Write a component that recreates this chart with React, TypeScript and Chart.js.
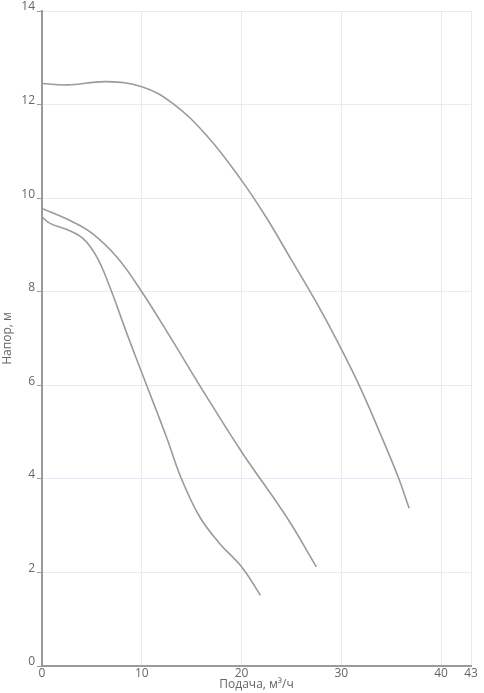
import React, { useEffect, useRef } from "react";
import { Chart, registerables } from "chart.js";

Chart.register(...registerables);

const xTicks = [0, 10, 20, 30, 40, 43];

const curveTopX = [0, 2.5, 6.5, 10, 13, 16.5, 20, 22.5, 25, 27.5, 29.5, 31.7, 33.9, 35.7, 36.8];
const curveTopY = [12.45, 12.42, 12.49, 12.38, 12.04, 11.34, 10.38, 9.58, 8.68, 7.77, 6.98, 6.04, 4.97, 4.04, 3.37];

const curveMidX = [0, 3, 5, 7.5, 10, 13, 16, 20, 24.5, 27.5];
const curveMidY = [9.78, 9.5, 9.25, 8.74, 8.0, 6.98, 5.93, 4.58, 3.19, 2.12];

const curveLowX = [0, 0.8, 2.5, 4.1, 5.5, 6.8, 8.5, 10.4, 12.5, 14, 15.8, 17.8, 20, 21.9];
const curveLowY = [9.6, 9.46, 9.33, 9.14, 8.74, 8.1, 7.11, 6.05, 4.88, 3.99, 3.19, 2.62, 2.12, 1.51];

const xTitle = "Подача, м³/ч";
const yTitle = "Напор, м";

function pts(xs: number[], ys: number[]) {
  return xs.map((x, i) => ({ x, y: ys[i] }));
}

export default function App() {
  const ref = useRef<HTMLCanvasElement | null>(null);
  useEffect(() => {
    if (!ref.current) return;
    const lineStyle = {
      borderColor: "#9b9b9b",
      borderWidth: 1.6,
      pointRadius: 0,
      showLine: true,
      fill: false,
      tension: 0.4,
    };
    const font = { family: "Open Sans", size: 12 };
    const chart = new Chart(ref.current, {
      type: "scatter",
      data: {
        datasets: [
          { ...lineStyle, data: pts(curveTopX, curveTopY) },
          { ...lineStyle, data: pts(curveMidX, curveMidY) },
          { ...lineStyle, data: pts(curveLowX, curveLowY) },
        ],
      },
      options: {
        animation: false,
        responsive: true,
        maintainAspectRatio: false,
        layout: { padding: { left: 0, right: 13, top: 11, bottom: 0 } },
        plugins: { legend: { display: false }, tooltip: { enabled: false } },
        scales: {
          x: {
            type: "linear",
            min: 0,
            max: 43,
            afterBuildTicks: (s: any) => {
              s.ticks = xTicks.map((v) => ({ value: v }));
            },
            afterFit: (s: any) => {
              s.height = 27;
            },
            grid: { color: "#e8e9f3", lineWidth: 1, tickLength: 0, drawTicks: false },
            border: { color: "#9a9a9a", width: 2 },
            ticks: {
              color: "#666",
              font,
              padding: 0,
              maxRotation: 0,
              autoSkip: false,
            },
            title: {
              display: true,
              text: xTitle,
              color: "#666",
              font,
              padding: { top: 0, bottom: 1 },
            },
          },
          y: {
            type: "linear",
            min: 0,
            max: 14,
            afterFit: (s: any) => {
              s.width = 42;
            },
            grid: { color: "#e8e9f3", lineWidth: 1, tickLength: 5, tickColor: "#9a9a9a" },
            border: { color: "#9a9a9a", width: 2 },
            ticks: {
              stepSize: 2,
              color: "#666",
              font,
              padding: 2,
              labelOffset: -4,
            },
            title: {
              display: true,
              text: yTitle,
              color: "#666",
              font,
              padding: { top: 0, bottom: 0 },
            },
          },
        },
      },
    });
    return () => chart.destroy();
  }, []);
  return (
    <div style={{ position: "absolute", left: 0, top: 0, width: 484, height: 693 }}>
      <canvas ref={ref} />
    </div>
  );
}
